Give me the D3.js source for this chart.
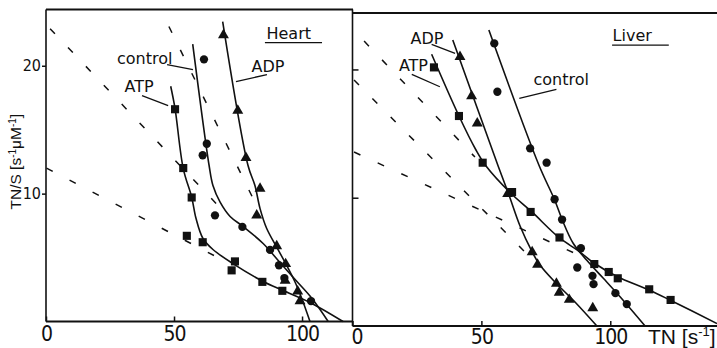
<!DOCTYPE HTML>
<html>
  <head>
    <meta charset="utf-8">
    <style>
      body { margin: 0px; background: #fff; }
      svg { display: block; }
      .note { font-family: "DejaVu Sans", sans-serif; font-size: 16px; fill: #111; }
      .xax text { font-family: "DejaVu Sans Condensed", sans-serif; font-size: 21px; letter-spacing: -1px; fill: #111; }
      .yax text { font-family: "DejaVu Sans Condensed", sans-serif; font-size: 16px; fill: #111; }
      .tick line { stroke: #111; stroke-width: 1.5; }
    </style>
  </head>
  <body>
    <script src="https://cdn.jsdelivr.net/npm/d3@7"></script>
    <script>

      // *** DATA ***
      // x = TN [s-1], y = TN/S [s-1 uM-1]

      // Heart - measured points
      var heartATP = [[50.4,16.6],[53.6,12.0],[56.9,9.7],[55.0,6.7],[61.2,6.2],[73.8,4.7],[72.5,4.0],[84.5,3.1],[92.3,2.4]];
      var heartControl = [[61.7,20.5],[62.8,13.9],[61.2,13.0],[66.0,8.3],[76.7,7.4],[87.5,5.6],[91.0,4.4],[93.1,3.4],[103.5,1.6]];
      var heartADP = [[69.3,22.4],[74.9,16.5],[78.1,12.8],[83.6,10.4],[82.3,8.3],[90.1,5.9],[93.6,4.5],[93.4,3.2],[98.3,2.35],[99.2,1.6]];

      // Heart - fitted curves
      var heartATPFit = [[48.7,18.4],[50.4,16.65],[53.6,11.96],[56.9,9.72],[58.6,8.05],[61.3,6.49],[65.2,5.63],[73.0,4.53],[84.8,3.13],[92.6,2.42],[103.1,1.49],[116,0]];
      var heartControlFit = [[57.3,21.7],[63.7,12.2],[65.2,10.63],[68.0,9.33],[71.9,8.21],[77.0,7.43],[84.8,6.10],[91.4,4.61],[98.0,3.13],[103.9,1.80],[110.2,0]];
      var heartADPFit = [[69.0,23.46],[78.9,12.2],[81.6,10.63],[83.6,8.83],[86.2,7.27],[90.1,5.81],[94.0,4.38],[97.3,3.07],[99.9,1.80],[103.1,0]];

      // Heart - dashed extrapolations (start, end)
      var heartDashed = [[[1.6,22.9],[68.0,8.9]], [[48.0,23.07],[82.8,8.83]], [[0.2,12.0],[65.6,5.16]]];

      // Liver - measured points
      var liverATP = [[31.6,20.16],[41.3,16.37],[50.5,12.73],[61.9,10.44],[69.1,8.89],[80.3,6.90],[93.8,4.83],[99.4,4.21],[102.9,3.72],[115.1,2.86],[123.4,2.03]];
      var liverControl = [[55.0,22.03],[56.2,18.26],[68.9,13.85],[75.3,12.73],[78.4,9.88],[81.3,8.30],[88.6,6.06],[87.2,4.56],[93.1,3.91],[93.5,3.26],[102.0,2.56],[106.4,1.71]];
      var liverADP = [[41.7,20.99],[46.2,17.93],[48.4,15.80],[60.2,10.31],[69.7,5.77],[71.8,4.79],[79.1,3.30],[80.2,2.61],[84.1,2.05],[93.2,1.39]];

      // Liver - fitted curves
      var liverATPFit = [[30.7,21.18],[41.3,16.37],[47.9,13.72],[51.8,12.47],[61.1,10.41],[69.5,8.91],[80.2,6.88],[87.5,5.88],[93.7,4.91],[102.6,3.86],[115.0,2.81],[123.5,1.99],[141.4,0.19]];
      var liverControlFit = [[52.9,23.07],[72.3,12.55],[78.3,9.88],[81.4,8.26],[85.6,6.45],[90.8,5.14],[97.3,3.72],[103.8,2.28],[113.5,0]];
      var liverADPFit = [[38.9,22.29],[56.6,12.42],[60.7,10.21],[65.0,7.79],[69.5,5.85],[72.7,4.75],[79.3,3.27],[86.3,1.87],[94.8,0]];

      // Liver - dashed extrapolations
      var liverDashed = [[[4.5,22.21],[47.5,13.17]], [[0.6,19.17],[66.5,5.85]], [[0.6,13.56],[90.2,5.30]]];

      // tick values
      var xTicks = [0, 50, 100];
      var yTicks = [10, 20];

      // *** LAYOUT ***

      // label spots, in data units of each panel
      var heartNotes = [
        {text: "control", at: [27.7,20.17], lead: [[47.3,20.09],[57.4,19.70]]},
        {text: "ATP", at: [30.7,17.93], lead: [[37.5,17.67],[47.7,16.89]]},
        {text: "ADP", at: [80.3,19.55], lead: [[86.3,19.31],[74.2,18.76]]},
        {text: "Heart", at: [86.1,22.09], lead: [[85.5,21.81],[107.8,21.81]]}
      ];
      var liverNotes = [
        {text: "ADP", at: [22.5,21.98], lead: [[30.7,21.96],[39.8,21.25]]},
        {text: "ATP", at: [18.0,19.88], lead: [[23.0,19.62],[33.9,18.65]]},
        {text: "control", at: [70.2,18.82], lead: [[79.1,18.45],[64.7,17.75]]},
        {text: "Liver", at: [100.9,22.21], lead: [[100.7,21.90],[122.7,21.90]]}
      ];

      var W = 717, H = 348;
      var ink = "#111";

      var svg = d3.select("body").append("svg")
        .attr("width", W)
        .attr("height", H);

      // scales (the scanned frames are slightly offset)
      var xH = d3.scaleLinear().domain([0, 119.9]).range([46, 353]);
      var yH = d3.scaleLinear().domain([0, 24.4]).range([321.5, 9.5]);
      var xL = d3.scaleLinear().domain([0, 141.4]).range([352.5, 717]);
      var yL = d3.scaleLinear().domain([0, 24.4]).range([326, 13]);

      // *** FRAMES ***
      function seg(x1, y1, x2, y2, w){
        svg.append("line")
          .attr("x1", x1).attr("y1", y1).attr("x2", x2).attr("y2", y2)
          .style("stroke", ink).style("stroke-width", w);
      }
      seg(xH(0), yH(24.4), xH(0), yH(0), 1.6);
      seg(xH(0), yH(24.4), xH(119.9), yH(24.4), 1.9);
      seg(xH(0), yH(0), xH(119.9), yH(0), 1.9);
      seg(xL(0), yH(24.4), xL(0), yL(0), 1.6);
      seg(xL(0), yL(24.4), xL(141.4), yL(24.4), 1.9);
      seg(xL(0), yL(0), xL(141.4), yL(0), 1.9);

      // *** AXES ***
      svg.append("g").attr("class", "xax")
        .attr("transform", "translate(0," + yH(0) + ")")
        .call(d3.axisBottom(xH).tickValues(xTicks).tickSize(-5).tickPadding(5))
        .call(function(g){ g.select(".domain").remove(); });

      svg.append("g").attr("class", "xax")
        .attr("transform", "translate(0," + yL(0) + ")")
        .call(d3.axisBottom(xL).tickValues(xTicks).tickSize(-5).tickPadding(3))
        .call(function(g){
          g.select(".domain").remove();
          g.selectAll("text").filter(function(d){ return d === 0; }).attr("dx", 4);
        });

      svg.append("g").attr("class", "yax")
        .attr("transform", "translate(" + xH(0) + ",0)")
        .call(d3.axisLeft(yH).tickValues(yTicks).tickSize(4).tickPadding(1))
        .call(function(g){ g.select(".domain").remove(); });

      svg.append("g").attr("class", "yax")
        .attr("transform", "translate(" + xL(0) + ",0)")
        .call(d3.axisRight(yL).tickValues(yTicks).tickSize(6).tickFormat(""))
        .call(function(g){ g.select(".domain").remove(); });

      // axis titles
      var yt = svg.append("text")
        .attr("transform", "translate(20.5,161.7) rotate(-90)")
        .attr("text-anchor", "middle")
        .style("font-family", "'Liberation Sans Narrow', sans-serif")
        .style("font-size", "15.5px")
        .style("fill", ink);
      yt.append("tspan").text("TN/S [s");
      yt.append("tspan").attr("dy", -5).style("font-size", "10px").text("-1");
      yt.append("tspan").attr("dy", 5).text("\u03bcM");
      yt.append("tspan").attr("dy", -5).style("font-size", "10px").text("-1");
      yt.append("tspan").attr("dy", 5).text("]");

      var xt = svg.append("text")
        .attr("x", 648)
        .attr("y", 343.5)
        .style("font-family", "'Liberation Sans Narrow', sans-serif")
        .style("font-size", "21px")
        .style("fill", ink);
      xt.append("tspan").text("TN [s");
      xt.append("tspan").attr("dy", -8).style("font-size", "13px").text("-1");
      xt.append("tspan").attr("dy", 8).text("]");

      // *** PANELS ***
      var panels = [
        {x: xH, y: yH, fits: [heartATPFit, heartControlFit, heartADPFit], dashed: heartDashed,
         pts: [[heartATP, d3.symbolSquare, 66], [heartControl, d3.symbolCircle, 54], [heartADP, d3.symbolTriangle, 52]],
         notes: heartNotes},
        {x: xL, y: yL, fits: [liverATPFit, liverControlFit, liverADPFit], dashed: liverDashed,
         pts: [[liverATP, d3.symbolSquare, 66], [liverControl, d3.symbolCircle, 54], [liverADP, d3.symbolTriangle, 52]],
         notes: liverNotes}
      ];

      panels.forEach(function(p){

        var smooth = d3.line()
          .x(function(d){ return p.x(d[0]); })
          .y(function(d){ return p.y(d[1]); })
          .curve(d3.curveCatmullRom.alpha(0.5));

        var straight = d3.line()
          .x(function(d){ return p.x(d[0]); })
          .y(function(d){ return p.y(d[1]); });

        // dashed lines
        svg.append("g").selectAll("path").data(p.dashed)
          .enter().append("path")
            .attr("d", straight)
            .style("fill", "none")
            .style("stroke", ink)
            .style("stroke-width", 1.5)
            .style("stroke-dasharray", "7,19");

        // fitted curves
        svg.append("g").selectAll("path").data(p.fits)
          .enter().append("path")
            .attr("d", smooth)
            .style("fill", "none")
            .style("stroke", ink)
            .style("stroke-width", 1.6);

        // points
        p.pts.forEach(function(s){
          var sym = d3.symbol().type(s[1]).size(s[2]);
          svg.append("g").selectAll("path").data(s[0])
            .enter().append("path")
              .attr("d", sym)
              .attr("transform", function(d){ return "translate(" + p.x(d[0]) + "," + p.y(d[1]) + ")"; })
              .style("fill", ink);
        });

        // labels + leader lines
        p.notes.forEach(function(n){
          svg.append("text").attr("class", "note")
            .attr("x", p.x(n.at[0]))
            .attr("y", p.y(n.at[1]))
            .text(n.text);
          svg.append("path")
            .attr("d", straight(n.lead))
            .style("fill", "none")
            .style("stroke", ink)
            .style("stroke-width", 1.3);
        });
      });

    </script>
  </body>
</html>
